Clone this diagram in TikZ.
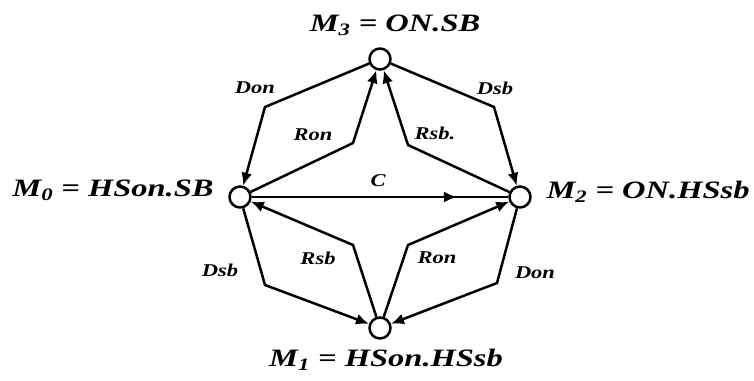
\documentclass[tikz,border=0pt]{standalone}
\usepackage{fontspec}
\setmainfont{Liberation Serif}
\usetikzlibrary{arrows.meta,decorations.markings}
\newcommand\edgelab[1]{\scalebox{1.25}[1]{#1}}
\newcommand\statelab[1]{\scalebox{1.3}[1]{#1}}
\begin{document}
\begin{tikzpicture}[x=1pt,y=-1pt,
  state/.style={circle,draw,line width=2.5pt,minimum size=21pt,inner sep=0pt,fill=white},
  conn/.style={line width=2.5pt,-{Latex[length=13pt,width=11pt]}},
  plain/.style={line width=2.5pt},
  lbl/.style={font=\fontsize{18}{20}\selectfont\bfseries\itshape,inner sep=0pt},
  ttl/.style={font=\fontsize{25}{28}\selectfont\bfseries\itshape,inner sep=0pt}]
\useasboundingbox (0,0) rectangle (754,380);
% states
\node[state] (m3) at (380,59) {};
\node[state] (m0) at (240,197) {};
\node[state] (m2) at (520,197) {};
\node[state] (m1) at (380,328) {};
% titles
\node[ttl] (t3) at (395,25) {\statelab{M\textsubscript{3} = ON.SB}};
\node[ttl] (t0) at (113,190) {\statelab{M\textsubscript{0} = HSon.SB}};
\node[ttl] (t2) at (648,192) {\statelab{M\textsubscript{2} = ON.HSsb}};
\node[ttl] (t1) at (386,360) {\statelab{M\textsubscript{1} = HSon.HSsb}};
% bend points
\coordinate (b30) at (265,107);
\coordinate (b03) at (353,143);
\coordinate (b23) at (408,145);
\coordinate (b32) at (494,107);
\coordinate (b01) at (265,285);
\coordinate (b10) at (353,245);
\coordinate (b12) at (408,245);
\coordinate (b21) at (497,283);
% connectors
\draw[conn] (m3) -- (b30) -- (m0);
\draw[conn] (m0) -- (b03) -- (m3);
\draw[conn] (m2) -- (b23) -- (m3);
\draw[conn] (m3) -- (b32) -- (m2);
\draw[conn] (m0) -- (b01) -- (m1);
\draw[conn] (m1) -- (b10) -- (m0);
\draw[conn] (m1) -- (b12) -- (m2);
\draw[conn] (m2) -- (b21) -- (m1);
\draw[plain,decoration={markings,mark=at position 0.8 with {\arrow{Latex[length=13pt,width=11pt]}}},postaction={decorate}] (m0) -- (m2);
% labels
\node[lbl] (l1) at (255,88) {\edgelab{Don}};
\node[lbl] (l2) at (313,135) {\edgelab{Ron}};
\node[lbl] (l3) at (435,133) {\edgelab{Rsb.}};
\node[lbl] (l4) at (495,88) {\edgelab{Dsb}};
\node[lbl] (l5) at (378,181) {\edgelab{C}};
\node[lbl] (l6) at (318,258) {\edgelab{Rsb}};
\node[lbl] (l7) at (437,258) {\edgelab{Ron}};
\node[lbl] (l8) at (220,270) {\edgelab{Dsb}};
\node[lbl] (l9) at (535,273) {\edgelab{Don}};
\end{tikzpicture}
\end{document}
